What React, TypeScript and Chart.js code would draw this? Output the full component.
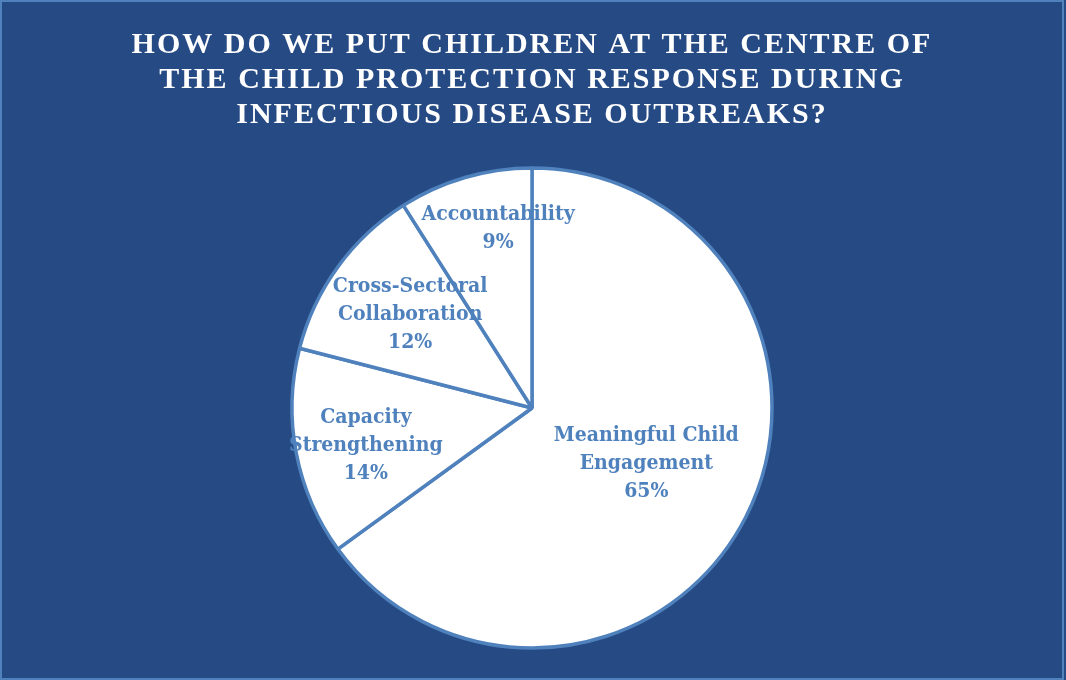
import React, { useEffect, useRef } from "react";
import { Chart, registerables } from "chart.js";

Chart.register(...registerables);

const TITLE_LINES = [
  "HOW DO WE PUT CHILDREN AT THE CENTRE OF",
  "THE CHILD PROTECTION RESPONSE DURING",
  "INFECTIOUS DISEASE OUTBREAKS?",
];
const CATEGORIES = [
  "Meaningful Child Engagement",
  "Capacity Strengthening",
  "Cross-Sectoral Collaboration",
  "Accountability",
];
const CATEGORY_LINES = [
  ["Meaningful Child", "Engagement"],
  ["Capacity", "Strengthening"],
  ["Cross-Sectoral", "Collaboration"],
  ["Accountability"],
];
const VALUES = [65, 14, 12, 9];
const PERCENT_LABELS = ["65%", "14%", "12%", "9%"];

// label placement style (radius fraction, angle nudge in degrees)
const LABEL_RADIUS_FRAC = [0.53, 0.71, 0.64, 0.76];
const LABEL_ANGLE_NUDGE = [-1, -2, 1.5, 5.5];

const BG = "#264a84";
const ACCENT = "#4f81bd";
const LABEL_FONT = "bold 21px 'DejaVu Serif Condensed', 'DejaVu Serif'";

const framePlugin = {
  id: "frame",
  beforeDraw(chart: any) {
    const ctx = chart.ctx;
    ctx.save();
    ctx.fillStyle = BG;
    ctx.fillRect(0, 0, chart.width, chart.height);
    ctx.strokeStyle = ACCENT;
    ctx.lineWidth = 2;
    ctx.strokeRect(1, 1, chart.width - 4, chart.height - 2);
    ctx.restore();
    (ctx as any).letterSpacing = "2px";
  },
  beforeDatasetsDraw(chart: any) {
    (chart.ctx as any).letterSpacing = "0px";
  },
  afterDatasetsDraw(chart: any) {
    const ctx = chart.ctx;
    const meta = chart.getDatasetMeta(0);
    ctx.save();
    ctx.fillStyle = ACCENT;
    ctx.font = LABEL_FONT;
    (ctx as any).fontStretch = "condensed";
    ctx.textAlign = "center";
    ctx.textBaseline = "middle";
    meta.data.forEach((arc: any, i: number) => {
      const p = arc.getProps(["x", "y", "startAngle", "endAngle", "outerRadius"], true);
      const mid = (p.startAngle + p.endAngle) / 2 + (LABEL_ANGLE_NUDGE[i] * Math.PI) / 180;
      const r = p.outerRadius * LABEL_RADIUS_FRAC[i];
      const cx = p.x + Math.cos(mid) * r;
      const cy = p.y + Math.sin(mid) * r;
      const lines = [...CATEGORY_LINES[i], PERCENT_LABELS[i]];
      const lh = 28;
      const y0 = cy - ((lines.length - 1) * lh) / 2;
      lines.forEach((t, j) => ctx.fillText(t, cx, y0 + j * lh));
    });
    ctx.restore();
  },
};

export default function App() {
  const ref = useRef<HTMLCanvasElement>(null);
  useEffect(() => {
    const chart = new Chart(ref.current!, {
      type: "pie",
      data: {
        labels: CATEGORIES,
        datasets: [
          {
            data: VALUES,
            backgroundColor: "#ffffff",
            borderColor: ACCENT,
            borderWidth: 3.5,
          },
        ],
      },
      options: {
        responsive: false,
        animation: false,
        radius: 240,
        layout: { padding: { left: 0, right: 2, top: 0, bottom: 4 } },
        plugins: {
          legend: { display: false },
          tooltip: { enabled: false },
          title: {
            display: true,
            text: TITLE_LINES,
            color: "#ffffff",
            font: { family: "'Liberation Serif'", size: 30, weight: "bold", lineHeight: 35 / 30 },
            padding: { top: 28, bottom: 7 },
          },
        },
      },
      plugins: [framePlugin],
    });
    return () => chart.destroy();
  }, []);
  return (
    <div style={{ position: "fixed", left: 0, top: 0, width: 1066, height: 680 }}>
      <canvas ref={ref} width={1066} height={680} />
    </div>
  );
}
